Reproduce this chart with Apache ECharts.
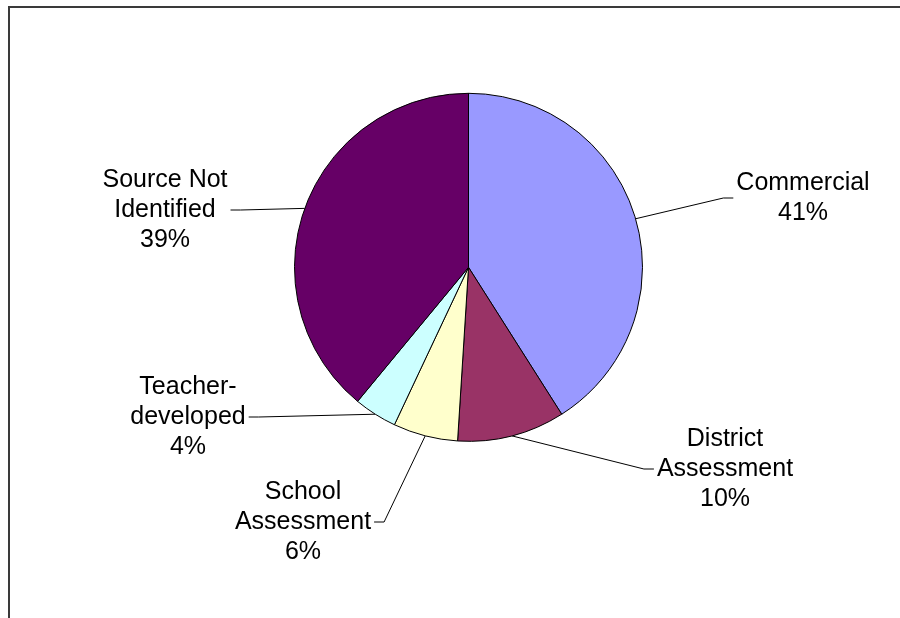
<!DOCTYPE html>
<html>
<head>
<meta charset="utf-8">
<title>Assessment Sources</title>
<script src="https://cdn.jsdelivr.net/npm/echarts@6/dist/echarts.min.js"></script>
<style>
  html, body { margin: 0; padding: 0; background: #ffffff; }
  #chart { width: 900px; height: 618px; }
</style>
</head>
<body>
<div id="chart"></div>
<script>
// Share of assessments by source (percent)
const categories = [
  'Commercial',
  'District\nAssessment',
  'School\nAssessment',
  'Teacher-\ndeveloped',
  'Source Not\nIdentified'
];
const shares = [41, 10, 6, 4, 39];
const sliceColors = ['#9999FF', '#993366', '#FFFFCC', '#CCFFFF', '#660066'];

// Where each slice's label block is centred
const labelCentres = [
  [803, 198],
  [725, 469],
  [303, 522],
  [188, 417],
  [165, 210]
];

const chart = echarts.init(document.getElementById('chart'), null, { renderer: 'canvas' });

chart.setOption({
  animation: false,
  backgroundColor: '#ffffff',
  graphic: [{
    // chart-area frame: only its top and left edges fall inside the view
    type: 'polyline',
    silent: true,
    shape: { points: [[9, 1000], [9, 7], [1000, 7]] },
    style: { fill: null, stroke: '#3a3a3a', lineWidth: 2 }
  }],
  series: [{
    type: 'pie',
    center: [468.5, 267.3],
    radius: 174,
    startAngle: 90,
    clockwise: true,
    silent: true,
    emphasis: { disabled: true },
    data: categories.map((name, i) => ({
      name: name,
      value: shares[i],
      itemStyle: { color: sliceColors[i] }
    })),
    itemStyle: { borderColor: '#000000', borderWidth: 1 },
    label: {
      show: true,
      position: 'outside',
      formatter: p => p.name + '\n' + Math.round(p.percent) + '%',
      fontFamily: '"Liberation Sans", Arial, sans-serif',
      fontSize: 25,
      lineHeight: 30,
      color: '#000000',
      align: 'center',
      padding: [0, 3]
    },
    labelLine: {
      show: true,
      length: 15,
      length2: 10,
      smooth: false,
      lineStyle: { color: '#000000', width: 1 }
    },
    labelLayout: function (params) {
      const c = labelCentres[params.dataIndex];
      return { x: c[0], y: c[1], align: 'center', verticalAlign: 'middle' };
    }
  }]
});
</script>
</body>
</html>
